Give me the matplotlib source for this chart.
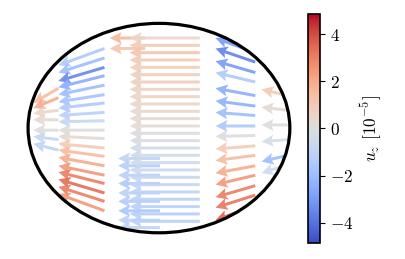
import numpy as np
import matplotlib
matplotlib.use('Agg')
import matplotlib.pyplot as plt
from matplotlib.patches import Ellipse

plt.rcParams['font.family'] = 'serif'
plt.rcParams['font.serif'] = ['cmr10', 'DejaVu Serif']
plt.rcParams['mathtext.fontset'] = 'cm'
plt.rcParams['axes.formatter.use_mathtext'] = True
plt.rcParams['font.size'] = 12.5

# arrow columns inside the ellipse (semi axes 1.25 x 1.0), all flowing to -x
# column 1: left edge
c1_x = -0.96
c1_u = -0.24
c1_y = [0.38, 0.29, 0.17, 0.08, -0.02, -0.11, -0.21]
c1_v = [-0.14, -0.10, -0.03, 0.0, 0.0, 0.03, 0.06]
c1_c = [1.5, 2.0, 0.5, 0.3, 0.0, -0.8, -1.0]

# column 2: long slanted arrows on the left
c2_x = -0.52
c2_u = -0.44
c2_y = [0.76, 0.67, 0.58, 0.50, 0.41, 0.32, 0.24, 0.15, 0.07, -0.02,
        -0.10, -0.19, -0.27, -0.36, -0.45, -0.53, -0.62, -0.70, -0.79]
c2_v = [-0.16, -0.14, -0.13, -0.11, -0.09, -0.07, -0.05, -0.03, -0.01, 0.0,
        0.02, 0.04, 0.06, 0.08, 0.09, 0.11, 0.13, 0.14, 0.16]
c2_c = [-1.5, -2.0, -3.5, -2.5, -2.0, -1.8, -1.5, -1.2, -0.8, 0.0,
        0.3, 1.0, 1.5, 2.0, 2.5, 3.0, 3.4, 3.0, 2.5]

# column 3: upper orange pair and lower light blue block
c3a_x = -0.13
c3a_u = -0.34
c3a_y = [0.86, 0.76]
c3a_c = [1.6, 1.1]

c3b_x = 0.01
c3b_u = -0.40
c3b_y = [-0.29, -0.36, -0.45, -0.53, -0.62, -0.70, -0.79, -0.88, -0.95]
c3b_c = [-1.0, -1.3, -1.2, -1.5, -1.2, -1.4, -1.6, -1.2, -1.0]

# column 4: central block
c4_x = 0.39
c4_u = -0.67
c4_y = [0.86, 0.79, 0.72, 0.65, 0.58, 0.51, 0.44, 0.37, 0.30, 0.23,
        0.16, 0.09, 0.02, -0.05, -0.12, -0.19, -0.26, -0.33, -0.40,
        -0.47, -0.54, -0.61, -0.68, -0.75, -0.82, -0.89]
c4_c = [0.4, 1.0, 1.2, 1.0, 0.9, 0.8, 0.8, 0.7, 0.6, 0.5,
        0.4, 0.3, 0.2, 0.0, -0.2, -0.4, -0.5, -0.6, -0.7,
        -0.8, -0.9, -1.0, -1.1, -1.2, -1.3, -1.2]

# column 5: right arrows, blue on top and red below
c5_x = 0.92
c5_u = -0.38
c5_y = [0.84, 0.72, 0.63, 0.53, 0.44, 0.31, 0.21, 0.12, 0.02, -0.07,
        -0.17, -0.26, -0.36, -0.45, -0.55, -0.64, -0.74, -0.81]
c5_v = [0.16, 0.14, 0.13, 0.11, 0.09, 0.07, 0.05, 0.03, 0.0, -0.01,
        -0.03, -0.05, -0.07, -0.09, -0.11, -0.12, -0.14, -0.16]
c5_c = [-2.5, -3.0, -3.6, -3.0, -1.5, -2.5, -2.4, -2.0, -1.5, 0.0,
        1.0, 1.5, 2.0, 2.5, 3.0, 3.2, 3.6, 4.5]

# column 6: right edge
c6_x = 1.23
c6_u = -0.25
c6_y = [0.31, 0.17, 0.03, -0.11, -0.26, -0.35]
c6_v = [0.06, 0.03, 0.0, -0.02, -0.06, -0.08]
c6_c = [1.0, 0.3, 0.0, -0.3, -2.0, -0.5]

vlim = 4.85

fig = plt.figure(figsize=(4.06, 2.59), dpi=100)
ax = fig.add_axes([0.056, 0.081, 0.671, 0.849])
ax.set_xlim(-1.3, 1.3)
ax.set_ylim(-1.05, 1.05)
ax.set_aspect('equal')
ax.axis('off')

ell = Ellipse((0, 0), 2.5, 2.0, fill=False, lw=2.3, ec='black', zorder=5)
ax.add_patch(ell)

kw = dict(cmap='coolwarm', angles='xy', scale_units='xy', scale=1, alpha=0.9,
          width=0.011, headwidth=4.0, headlength=4.0, headaxislength=3.4)

cols = [
    (c1_x, c1_u, c1_y, c1_v, c1_c),
    (c2_x, c2_u, c2_y, c2_v, c2_c),
    (c3a_x, c3a_u, c3a_y, [0.0] * len(c3a_y), c3a_c),
    (c3b_x, c3b_u, c3b_y, [0.0] * len(c3b_y), c3b_c),
    (c4_x, c4_u, c4_y, [0.0] * len(c4_y), c4_c),
    (c5_x, c5_u, c5_y, c5_v, c5_c),
    (c6_x, c6_u, c6_y, c6_v, c6_c),
]
q = None
for x0, u0, ys, vs, cs in cols:
    n = len(ys)
    q = ax.quiver(np.full(n, x0), np.array(ys), np.full(n, u0), np.array(vs),
                  np.array(cs), **kw)
    q.set_clim(-vlim, vlim)
    q.set_clip_path(ell)

cax = fig.add_axes([0.759, 0.062, 0.030, 0.884])
sm = plt.cm.ScalarMappable(cmap='coolwarm', norm=plt.Normalize(-vlim, vlim))
cb = fig.colorbar(sm, cax=cax, ticks=[-4, -2, 0, 2, 4])
cb.set_label(r'$u_z$ [$10^{-5}$]', labelpad=4)
cb.outline.set_linewidth(1.2)

plt.savefig('out.png', dpi=100)
